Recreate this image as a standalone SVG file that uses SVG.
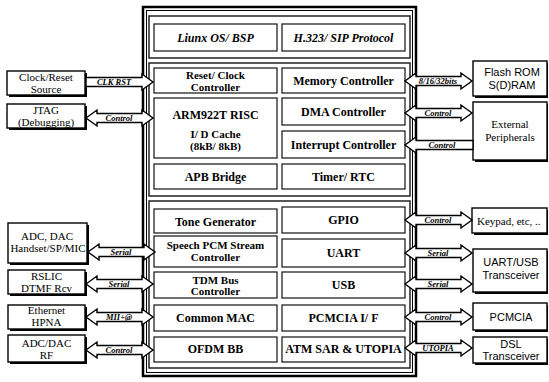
<svg xmlns="http://www.w3.org/2000/svg" xmlns:xlink="http://www.w3.org/1999/xlink" width="549" height="382" viewBox="0 0 549 382">
<style>
.bg{fill:#fff}
.chipo{fill:none;stroke:#000;stroke-width:2.5}
.chipi{fill:none;stroke:#000;stroke-width:1}
.grp{fill:none;stroke:#222;stroke-width:1.5}
.blk{fill:#fff;stroke:#111;stroke-width:1.2}
.ext{fill:#fff;stroke:#000;stroke-width:1.4}
.sh{fill:#000}
.arr{fill:#fff;stroke:#000;stroke-width:1.4;stroke-linejoin:miter}
.t{font-family:"Liberation Serif",serif;font-weight:bold;font-size:12px;fill:#000;text-anchor:middle}
.t2{font-size:11px}
.ti{font-style:italic}
.e{font-family:"Liberation Serif",serif;font-size:11px;fill:#000;text-anchor:middle}
.es{font-family:"Liberation Sans",sans-serif;font-size:11px;fill:#000;text-anchor:middle}
.lb{font-family:"Liberation Serif",serif;font-weight:bold;font-style:italic;font-size:8.5px;fill:#000;text-anchor:middle}
</style>
<defs>
<polygon id="aL1" points="86,-4.5 142,-4.5 142,-8 153,0 142,8 142,4.5 86,4.5"/>
<polygon id="aL2" points="86,0 97,-8 97,-4.5 142,-4.5 142,-8 153,0 142,8 142,4.5 97,4.5 97,8"/>
<polygon id="aR2" points="405,0 416,-8 416,-4.5 461,-4.5 461,-8 472,0 461,8 461,4.5 416,4.5 416,8"/>
<polygon id="aR1" points="405,0 416,-8 416,-4.5 473,-4.5 473,4.5 416,4.5 416,8"/>
</defs>
<rect class="bg" x="0" y="0" width="549" height="382"/>

<g id="chip">
<rect class="chipo" x="143" y="7" width="273" height="369"/>
<rect class="chipi" x="146.5" y="10.5" width="266" height="362"/>
</g>

<g id="grp-software"><rect class="grp" x="149" y="16" width="261" height="42"/></g>
<g id="grp-processor"><rect class="grp" x="149" y="63" width="261" height="133"/></g>
<g id="grp-peripheral"><rect class="grp" x="149" y="201" width="261" height="167"/></g>

<g id="linux"><rect class="blk" x="154" y="24" width="123" height="27"/><text class="t ti" x="215.5" y="42">Liunx OS/ BSP</text></g>
<g id="h323"><rect class="blk" x="282" y="24" width="123" height="27"/><text class="t ti" x="343.5" y="42">H.323/ SIP Protocol</text></g>

<g id="resetclk"><rect class="blk" x="154" y="68" width="123" height="25"/><text class="t t2" x="215.5" y="79">Reset/ Clock</text><text class="t t2" x="215.5" y="90.5">Controller</text></g>
<g id="memctl"><rect class="blk" x="282" y="68" width="123" height="25"/><text class="t" x="343.5" y="84.5">Memory Controller</text></g>
<g id="arm"><rect class="blk" x="154" y="98" width="123" height="60"/><text class="t" x="215.5" y="119">ARM922T RISC</text><text class="t t2" x="215.5" y="138">I/ D Cache</text><text class="t t2" x="215.5" y="149.5">(8kB/ 8kB)</text></g>
<g id="dma"><rect class="blk" x="282" y="98" width="123" height="27"/><text class="t" x="343.5" y="116">DMA Controller</text></g>
<g id="intc"><rect class="blk" x="282" y="131" width="123" height="27"/><text class="t" x="343.5" y="149">Interrupt Controller</text></g>
<g id="apb"><rect class="blk" x="154" y="164" width="123" height="25"/><text class="t" x="215.5" y="181">APB Bridge</text></g>
<g id="timer"><rect class="blk" x="282" y="164" width="123" height="25"/><text class="t" x="343.5" y="181">Timer/ RTC</text></g>

<g id="tone"><rect class="blk" x="154" y="209" width="123" height="24"/><text class="t" x="215.5" y="226">Tone Generator</text></g>
<g id="gpio"><rect class="blk" x="282" y="207" width="123" height="26"/><text class="t" x="343.5" y="224">GPIO</text></g>
<g id="pcm"><rect class="blk" x="154" y="236" width="123" height="31"/><text class="t t2" x="215.5" y="249">Speech PCM Stream</text><text class="t t2" x="215.5" y="260.5">Controller</text></g>
<g id="uart"><rect class="blk" x="282" y="239" width="123" height="28"/><text class="t" x="343.5" y="257">UART</text></g>
<g id="tdm"><rect class="blk" x="154" y="272" width="123" height="26"/><text class="t t2" x="215.5" y="283.5">TDM Bus</text><text class="t t2" x="215.5" y="295">Controller</text></g>
<g id="usb"><rect class="blk" x="282" y="272" width="123" height="26"/><text class="t" x="343.5" y="289">USB</text></g>
<g id="mac"><rect class="blk" x="154" y="305" width="123" height="26"/><text class="t" x="215.5" y="322">Common MAC</text></g>
<g id="pcmciaif"><rect class="blk" x="282" y="305" width="123" height="26"/><text class="t" x="343.5" y="322">PCMCIA I/ F</text></g>
<g id="ofdm"><rect class="blk" x="154" y="337" width="123" height="25"/><text class="t" x="215.5" y="353">OFDM BB</text></g>
<g id="atm"><rect class="blk" x="282" y="337" width="123" height="25"/><text class="t" x="343.5" y="353">ATM SAR &amp; UTOPIA</text></g>

<g id="clksrc"><rect class="sh" x="9" y="73" width="78" height="24"/><rect class="ext" x="7" y="71" width="78" height="24"/><text class="e" x="46" y="81">Clock/Reset</text><text class="e" x="46" y="92.5">Source</text></g>
<g id="jtag"><rect class="sh" x="9" y="106" width="78" height="24"/><rect class="ext" x="7" y="104" width="78" height="24"/><text class="e" x="46" y="114">JTAG</text><text class="e" x="46" y="125.5">(Debugging)</text></g>
<g id="adcdac"><rect class="sh" x="10" y="225" width="79" height="40"/><rect class="ext" x="8" y="223" width="79" height="40"/><text class="e" x="47" y="240">ADC, DAC</text><text class="e" x="48" y="251.5">Handset/SP/MIC</text></g>
<g id="rslic"><rect class="sh" x="10" y="272" width="77" height="24"/><rect class="ext" x="8" y="270" width="77" height="24"/><text class="e" x="46.5" y="280">RSLIC</text><text class="e" x="46.5" y="291.5">DTMF Rcv</text></g>
<g id="ethernet"><rect class="sh" x="10" y="307" width="77" height="24"/><rect class="ext" x="8" y="305" width="77" height="24"/><text class="e" x="46.5" y="314">Ethernet</text><text class="e" x="46.5" y="325.5">HPNA</text></g>
<g id="rf"><rect class="sh" x="10" y="337" width="77" height="27"/><rect class="ext" x="8" y="335" width="77" height="27"/><text class="e" x="46.5" y="347">ADC/DAC</text><text class="e" x="46.5" y="358.5">RF</text></g>

<g id="flash"><rect class="sh" x="475" y="63" width="73" height="35"/><rect class="ext" x="473" y="61" width="74" height="35"/><text class="es" x="512" y="76">Flash ROM</text><text class="es" x="512" y="88.5">S(D)RAM</text></g>
<g id="extper"><rect class="sh" x="475" y="104" width="73" height="58"/><rect class="ext" x="473" y="102" width="74" height="58"/><text class="e" x="510" y="128">External</text><text class="e" x="510" y="141">Peripherals</text></g>
<g id="keypad"><rect class="sh" x="474" y="210" width="74" height="25"/><rect class="ext" x="472" y="208" width="75" height="25"/><text class="e" x="477" y="224.5" style="text-anchor:start">Keypad, etc, ..</text></g>
<g id="uartusb"><rect class="sh" x="475" y="251" width="73" height="43"/><rect class="ext" x="473" y="249" width="74" height="43"/><text class="es" x="511" y="266">UART/USB</text><text class="es" x="511" y="278.5">Transceiver</text></g>
<g id="pcmcia"><rect class="sh" x="475" y="305" width="73" height="27"/><rect class="ext" x="473" y="303" width="74" height="27"/><text class="es" x="511" y="321">PCMCIA</text></g>
<g id="dsl"><rect class="sh" x="475" y="339" width="73" height="26"/><rect class="ext" x="473" y="337" width="74" height="26"/><text class="es" x="511" y="347.5">DSL</text><text class="es" x="511" y="360">Transceiver</text></g>

<g id="connectors">
<use xlink:href="#aL1" class="arr" y="82"/><text class="lb" x="114" y="85">CLK RST</text>
<use xlink:href="#aL2" class="arr" y="118"/><text class="lb" x="119" y="121">Control</text>
<use xlink:href="#aL2" class="arr" y="252" transform="translate(2,0)"/><text class="lb" x="121" y="255">Serial</text>
<use xlink:href="#aL2" class="arr" y="284"/><text class="lb" x="119" y="287">Serial</text>
<use xlink:href="#aL2" class="arr" y="317"/><text class="lb" x="119" y="320">MII+@</text>
<use xlink:href="#aL2" class="arr" y="350"/><text class="lb" x="119" y="353">Control</text>

<use xlink:href="#aR2" class="arr" y="81"/><text class="lb" x="438" y="84">8/16/32bits</text>
<use xlink:href="#aR2" class="arr" y="113"/><text class="lb" x="438" y="116">Control</text>
<use xlink:href="#aR1" class="arr" y="145"/><text class="lb" x="442" y="148">Control</text>
<use xlink:href="#aR2" class="arr" y="220"/><text class="lb" x="438" y="223">Control</text>
<use xlink:href="#aR2" class="arr" y="253"/><text class="lb" x="438" y="256">Serial</text>
<use xlink:href="#aR2" class="arr" y="284"/><text class="lb" x="438" y="287">Serial</text>
<use xlink:href="#aR2" class="arr" y="317"/><text class="lb" x="438" y="320">Control</text>
<use xlink:href="#aR2" class="arr" y="348"/><text class="lb" x="438" y="351">UTOPIA</text>
</g>
</svg>
